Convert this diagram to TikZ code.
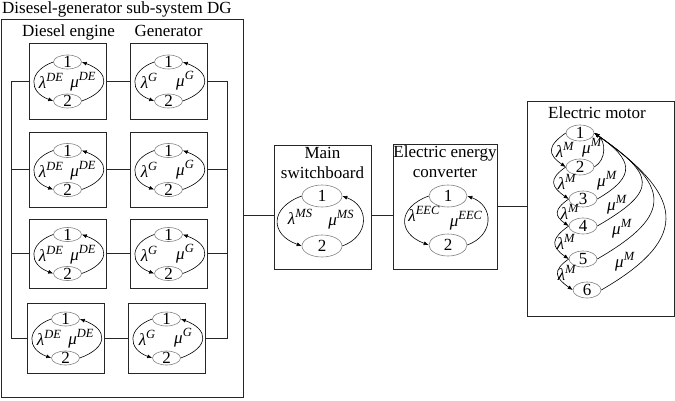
\documentclass[tikz,border=0pt]{standalone}
\usepackage{fontspec}
\setmainfont{Liberation Serif}
\usetikzlibrary{arrows.meta,shapes.geometric}
\newcommand{\figfont}{\fontsize{17}{20}\selectfont}
\newcommand{\trate}[2]{\textit{#1}\raisebox{0.42em}{\fontsize{12.5}{14}\selectfont\textit{#2}}}

\begin{document}
\begin{tikzpicture}[x=1pt,y=1pt,font=\figfont]
\tikzset{
  subbox/.style={draw=black!85,line width=0.8pt,minimum width=77pt,minimum height=75pt,inner sep=0pt},
  bigbox/.style={draw=black!85,line width=0.8pt,inner sep=0pt},
  stateell/.style={ellipse,draw=black!50,line width=0.6pt,minimum width=28pt,minimum height=14pt,inner sep=-1.5pt},
  rate/.style={inner sep=0pt},
  trans/.style={-{Latex[length=5pt,width=4pt]},line width=0.6pt},
  lamarc/.style={trans,out=200,in=160,looseness=1.75},
  muarc/.style={trans,out=20,in=-20,looseness=2},
  wire/.style={line width=0.8pt,draw=black!85}
}
\useasboundingbox (0,0) rectangle (675,400);
% diesel-generator sub-system
\node[bigbox,minimum width=242pt,minimum height=378pt] (n_dg) at (122,192) {};
\node[anchor=base west,inner sep=0pt] (n_dgtitle) at (2,386) {Disesel-generator sub-system DG};
\node[anchor=base,inner sep=0pt] (n_detitle) at (68.5,363) {Diesel engine};
\node[anchor=base,inner sep=0pt] (n_gtitle) at (168.5,363) {Generator};
% row 1
\node[subbox,minimum height=76pt] (n_de1) at (67.5,319) {};
\node[stateell] (n_de1a) at (67.5,338) {1};
\node[stateell] (n_de1b) at (67.5,299) {2};
\node[rate] (n_de1l) at (51,319) {\trate{λ}{DE}};
\node[rate] (n_de1m) at (83,318) {\trate{μ}{DE}};
\draw[lamarc] (n_de1a.west) to (n_de1b.west);
\draw[muarc] (n_de1b.east) to (n_de1a.east);
\node[subbox,minimum height=76pt] (n_g1) at (168.5,319) {};
\node[stateell] (n_g1a) at (168.5,338) {1};
\node[stateell] (n_g1b) at (168.5,299) {2};
\node[rate] (n_g1l) at (149,319) {\trate{λ}{G}};
\node[rate] (n_g1m) at (185,319) {\trate{μ}{G}};
\draw[lamarc] (n_g1a.west) to (n_g1b.west);
\draw[muarc] (n_g1b.east) to (n_g1a.east);
% row 2
\node[subbox] (n_de2) at (67.5,230.5) {};
\node[stateell] (n_de2a) at (67.5,249.5) {1};
\node[stateell] (n_de2b) at (67.5,210.5) {2};
\node[rate] (n_de2l) at (51,230.5) {\trate{λ}{DE}};
\node[rate] (n_de2m) at (83,229.5) {\trate{μ}{DE}};
\draw[lamarc] (n_de2a.west) to (n_de2b.west);
\draw[muarc] (n_de2b.east) to (n_de2a.east);
\node[subbox] (n_g2) at (168.5,230.5) {};
\node[stateell] (n_g2a) at (168.5,249.5) {1};
\node[stateell] (n_g2b) at (168.5,210.5) {2};
\node[rate] (n_g2l) at (149,230.5) {\trate{λ}{G}};
\node[rate] (n_g2m) at (185,230.5) {\trate{μ}{G}};
\draw[lamarc] (n_g2a.west) to (n_g2b.west);
\draw[muarc] (n_g2b.east) to (n_g2a.east);
% row 3
\node[subbox,minimum height=69pt] (n_de3) at (67.5,146.5) {};
\node[stateell] (n_de3a) at (67.5,165.5) {1};
\node[stateell] (n_de3b) at (67.5,126.5) {2};
\node[rate] (n_de3l) at (51,146.5) {\trate{λ}{DE}};
\node[rate] (n_de3m) at (83,145.5) {\trate{μ}{DE}};
\draw[lamarc] (n_de3a.west) to (n_de3b.west);
\draw[muarc] (n_de3b.east) to (n_de3a.east);
\node[subbox,minimum height=69pt] (n_g3) at (168.5,146.5) {};
\node[stateell] (n_g3a) at (168.5,165.5) {1};
\node[stateell] (n_g3b) at (168.5,126.5) {2};
\node[rate] (n_g3l) at (149,146.5) {\trate{λ}{G}};
\node[rate] (n_g3m) at (185,146.5) {\trate{μ}{G}};
\draw[lamarc] (n_g3a.west) to (n_g3b.west);
\draw[muarc] (n_g3b.east) to (n_g3a.east);
% row 4
\node[subbox,minimum height=70pt] (n_de4) at (65.5,62) {};
\node[stateell] (n_de4a) at (65.5,81) {1};
\node[stateell] (n_de4b) at (65.5,42) {2};
\node[rate] (n_de4l) at (49,62) {\trate{λ}{DE}};
\node[rate] (n_de4m) at (81,61) {\trate{μ}{DE}};
\draw[lamarc] (n_de4a.west) to (n_de4b.west);
\draw[muarc] (n_de4b.east) to (n_de4a.east);
\node[subbox,minimum height=70pt] (n_g4) at (166.5,62) {};
\node[stateell] (n_g4a) at (166.5,81) {1};
\node[stateell] (n_g4b) at (166.5,42) {2};
\node[rate] (n_g4l) at (147,62) {\trate{λ}{G}};
\node[rate] (n_g4m) at (183,62) {\trate{μ}{G}};
\draw[lamarc] (n_g4a.west) to (n_g4b.west);
\draw[muarc] (n_g4b.east) to (n_g4a.east);
% buses inside DG
\coordinate (c_busl) at (11,62);
\coordinate (c_busr) at (227,62);
\draw[wire] (n_de1.west) -| (c_busl) -- (n_de4.west);
\draw[wire] (n_de2.west) -- (n_de2.west -| c_busl);
\draw[wire] (n_de3.west) -- (n_de3.west -| c_busl);
\draw[wire] (n_g1.east) -| (c_busr) -- (n_g4.east);
\draw[wire] (n_g2.east) -- (n_g2.east -| c_busr);
\draw[wire] (n_g3.east) -- (n_g3.east -| c_busr);
\draw[wire] (n_de1) -- (n_g1);
\draw[wire] (n_de2) -- (n_g2);
\draw[wire] (n_de3) -- (n_g3);
\draw[wire] (n_de4) -- (n_g4);
% main switchboard
\node[bigbox,minimum width=97pt,minimum height=124pt] (n_ms) at (322.5,193) {};
\node[align=center,anchor=north,inner sep=0pt] (n_mstitle) at ([yshift=-2pt]n_ms.north) {Main\\switchboard};
\node[stateell,minimum width=40pt,minimum height=22pt] (n_msa) at (322,204) {1};
\node[stateell,minimum width=40pt,minimum height=22pt] (n_msb) at (322,154) {2};
\node[rate] (n_msl) at (300,183) {\trate{λ}{MS}};
\node[rate] (n_msm) at (341,180) {\trate{μ}{MS}};
\draw[lamarc] (n_msa.west) to (n_msb.west);
\draw[muarc,looseness=1.5] (n_msb.east) to (n_msa.east);
% electric energy converter
\node[bigbox,minimum width=104pt,minimum height=125pt] (n_eec) at (445,193.5) {};
\node[align=center,anchor=north,inner sep=0pt] (n_eectitle) at ([yshift=-2pt]n_eec.north) {Electric energy\\converter};
\node[stateell,minimum width=38pt,minimum height=22pt] (n_eeca) at (448,204) {1};
\node[stateell,minimum width=38pt,minimum height=22pt] (n_eecb) at (448,155) {2};
\node[rate] (n_eecl) at (424,186) {\trate{λ}{EEC}};
\node[rate] (n_eecm) at (466,179) {\trate{μ}{EEC}};
\draw[lamarc] (n_eeca.west) to (n_eecb.west);
\draw[muarc,looseness=1.5] (n_eecb.east) to (n_eeca.east);
% electric motor
\node[bigbox,minimum width=147pt,minimum height=215pt] (n_em) at (600.5,191.5) {};
\node[anchor=base,inner sep=0pt] (n_emtitle) at (597,282) {Electric motor};
\node[stateell,minimum height=16pt] (n_m1) at (580,267) {1};
\node[stateell,minimum height=16pt] (n_m2) at (580,233) {2};
\node[stateell,minimum height=16pt] (n_m3) at (583,201) {3};
\node[stateell,minimum height=16pt] (n_m4) at (583,174) {4};
\node[stateell,minimum height=16pt] (n_m5) at (583,141) {5};
\node[stateell,minimum height=16pt] (n_m6) at (587,110) {6};
\draw[trans] (n_m1.west) to[out=215,in=145,looseness=1.7] (n_m2.west);
\draw[trans] (n_m2.west) to[out=215,in=145,looseness=1.7] (n_m3.west);
\draw[trans] (n_m3.west) to[out=215,in=145,looseness=1.7] (n_m4.west);
\draw[trans] (n_m4.west) to[out=215,in=145,looseness=1.7] (n_m5.west);
\draw[trans] (n_m5.west) to[out=215,in=145,looseness=1.7] (n_m6.west);
\draw[trans] (n_m2.east) to[out=30,in=-35,looseness=1.07] (n_m1.east);
\draw[trans] (n_m3.east) to[out=30,in=-35,looseness=1.8] (n_m1.east);
\draw[trans] (n_m4.east) to[out=30,in=-35,looseness=2] (n_m1.east);
\draw[trans] (n_m5.east) to[out=30,in=-35,looseness=1.85] (n_m1.east);
\draw[trans] (n_m6.east) to[out=30,in=-35,looseness=1.74] (n_m1.east);
\node[rate] (n_ml1) at (565,250) {\trate{λ}{M}};
\node[rate] (n_ml2) at (567,218) {\trate{λ}{M}};
\node[rate] (n_ml3) at (570,188) {\trate{λ}{M}};
\node[rate] (n_ml4) at (566,158) {\trate{λ}{M}};
\node[rate] (n_ml5) at (567,127) {\trate{λ}{M}};
\node[rate] (n_mm1) at (592,252) {\trate{μ}{M}};
\node[rate] (n_mm2) at (607,219) {\trate{μ}{M}};
\node[rate] (n_mm3) at (617,195) {\trate{μ}{M}};
\node[rate] (n_mm4) at (622,171) {\trate{μ}{M}};
\node[rate] (n_mm5) at (625,138) {\trate{μ}{M}};
% links between sub-systems
\draw[wire] (n_ms.190) -- (n_ms.190 -| n_dg.east);
\draw[wire] (n_ms.-10) -- (n_ms.-10 -| n_eec.west);
\draw[wire] (n_eec.east) -- (n_eec.east -| n_em.west);
\end{tikzpicture}
\end{document}
